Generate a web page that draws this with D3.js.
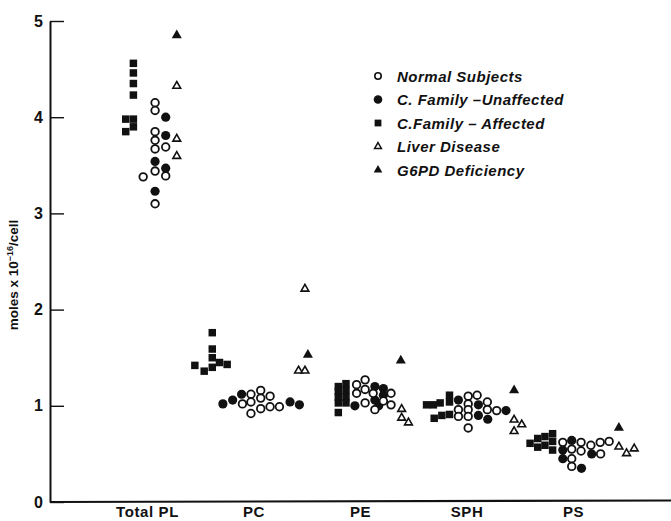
<!DOCTYPE html>
<html><head><meta charset="utf-8">
<script src="https://cdn.jsdelivr.net/npm/d3@7"></script>
<style>body{margin:0;background:#fff} svg{display:block}</style>
</head><body>
<svg id="c" width="671" height="521"></svg>
<script>
// ---- data ----
const categories = ["Total PL", "PC", "PE", "SPH", "PS"];
const yTicks = [0, 1, 2, 3, 4, 5];
const yTickLabels = ["0", "1", "2", "3", "4", "5"];
const legendLabels = ["Normal Subjects", "C. Family \u2013Unaffected", "C.Family \u2013 Affected", "Liver Disease", "G6PD Deficiency"];
// each entry: [category, value, horizontal slot within the category cluster]
const normalSubjects = [
  ["Total PL",4.15,0.95],["Total PL",4.07,0.95],["Total PL",3.85,0.95],["Total PL",3.76,0.95],["Total PL",3.67,0.95],
  ["Total PL",3.69,2.2],["Total PL",3.44,0.95],["Total PL",3.39,2.2],["Total PL",3.38,-0.45],["Total PL",3.10,0.95],
  ["PC",1.12,-0.3],["PC",1.16,0.85],["PC",1.02,-1.3],["PC",1.04,-0.3],["PC",1.08,0.85],
  ["PC",1.10,1.95],["PC",0.97,0.85],["PC",0.99,1.95],["PC",0.99,3.05],["PC",0.92,-0.3],
  ["PE",1.22,-0.4],["PE",1.27,0.6],["PE",1.17,0.6],["PE",1.13,-0.4],["PE",1.13,1.55],
  ["PE",1.13,3.65],["PE",1.03,0.6],["PE",0.96,1.75],["PE",1.01,3.65],["PE",1.05,2.75],
  ["SPH",1.10,0.2],["SPH",1.02,0.2],["SPH",0.96,0.2],["SPH",0.89,0.2],["SPH",0.77,0.2],
  ["SPH",0.96,-0.95],["SPH",0.89,-0.95],["SPH",1.11,1.25],["SPH",1.04,2.45],["SPH",0.96,2.45],["SPH",0.95,3.55],
  ["PS",0.62,-1.2],["PS",0.55,-0.15],["PS",0.45,-0.15],["PS",0.37,-0.15],["PS",0.62,0.95],
  ["PS",0.53,0.95],["PS",0.59,2.1],["PS",0.62,3.2],["PS",0.63,4.25],["PS",0.50,3.25]
];
const familyUnaffected = [
  ["Total PL",4.00,2.2],["Total PL",3.81,2.2],["Total PL",3.54,0.95],["Total PL",3.47,2.2],["Total PL",3.23,0.95],
  ["PC",1.02,-3.6],["PC",1.06,-2.45],["PC",1.12,-1.4],["PC",1.04,4.3],["PC",1.01,5.4],
  ["PE",1.00,-0.6],["PE",1.20,1.75],["PE",1.18,2.75],["PE",1.11,2.75],["PE",1.06,1.75],["PE",1.00,2.2],
  ["SPH",1.06,-0.95],["SPH",1.01,1.4],["SPH",0.90,1.4],["SPH",0.86,2.5],["SPH",0.95,4.65],
  ["PS",0.54,-1.2],["PS",0.45,-1.2],["PS",0.64,-0.15],["PS",0.50,2.2],["PS",0.35,1.0]
];
const familyAffected = [
  ["Total PL",4.56,-1.6],["Total PL",4.46,-1.6],["Total PL",4.35,-1.6],["Total PL",4.23,-1.6],
  ["Total PL",3.98,-2.5],["Total PL",3.98,-1.6],["Total PL",3.90,-1.6],["Total PL",3.85,-2.5],
  ["PC",1.76,-4.85],["PC",1.59,-4.85],["PC",1.50,-4.85],["PC",1.40,-4.85],["PC",1.45,-4.0],
  ["PC",1.43,-3.1],["PC",1.42,-6.9],["PC",1.36,-5.8],
  ["PE",1.20,-2.55],["PE",1.15,-2.55],["PE",1.09,-2.55],["PE",1.03,-2.55],["PE",0.93,-2.55],
  ["PE",1.23,-1.65],["PE",1.16,-1.65],["PE",1.09,-1.65],["PE",1.03,-1.65],
  ["SPH",1.01,-4.7],["SPH",1.01,-3.9],["SPH",1.03,-3.1],["SPH",1.11,-2.0],["SPH",1.04,-2.0],
  ["SPH",0.87,-3.8],["SPH",0.90,-2.9],["SPH",0.91,-2.0],
  ["PS",0.61,-5.05],["PS",0.66,-4.15],["PS",0.57,-4.15],["PS",0.68,-3.3],["PS",0.59,-3.3],
  ["PS",0.71,-2.4],["PS",0.63,-2.4],["PS",0.54,-2.4]
];
const liverDisease = [
  ["Total PL",4.33,3.5],["Total PL",3.78,3.5],["Total PL",3.60,3.5],
  ["PC",2.22,6.05],["PC",1.37,5.3],["PC",1.37,6.05],
  ["PE",0.97,4.9],["PE",0.88,4.9],["PE",0.83,5.7],
  ["SPH",0.86,5.6],["SPH",0.81,6.5],["SPH",0.74,5.6],
  ["PS",0.58,5.4],["PS",0.51,6.3],["PS",0.56,7.2]
];
const g6pdDeficiency = [
  ["Total PL",4.85,3.5],["PC",1.53,6.4],["PE",1.47,4.8],["SPH",1.16,5.6],["PS",0.77,5.4]
];

// ---- drawing ----
const W = 671, H = 521;
const svg = d3.select("#c");
const y = d3.scaleLinear().domain([0, 5]).range([502, 21]);
const xc = d3.scalePoint().domain(categories).range([147, 573]);
const slot = d3.scaleLinear().domain([0, 1]).range([0, 8.5]);
const px = d => xc(d[0]) + slot(d[2]);
const py = d => y(d[1]);
const ink = "#111";
const FONT = "'Liberation Sans', Arial, Helvetica, sans-serif";

// y axis
const yAxis = svg.append("g").attr("transform", "translate(50,0)")
  .call(d3.axisLeft(y).tickValues(yTicks).tickFormat((d, i) => yTickLabels[i])
    .tickSize(-14).tickSizeOuter(0).tickPadding(7));
yAxis.select(".domain").attr("stroke", ink).attr("stroke-width", 2);
yAxis.selectAll(".tick line").attr("stroke", ink).attr("stroke-width", 1.4);
yAxis.selectAll(".tick text").attr("fill", ink).style("font-family", FONT)
  .style("font-size", "16px").style("font-weight", "bold");

// x baseline
svg.append("line").attr("x1", 50).attr("x2", W).attr("y1", y(0)).attr("y2", y(0) - 1.5)
  .attr("stroke", ink).attr("stroke-width", 2.2);

// category labels
const xAxis = svg.append("g").attr("transform", `translate(0,${y(0)})`)
  .call(d3.axisBottom(xc).tickSize(0).tickPadding(0));
xAxis.select(".domain").remove();
xAxis.selectAll(".tick text").attr("y", 15).attr("dy", 0).attr("fill", ink)
  .style("font-family", FONT).style("font-size", "15px").style("font-weight", "bold")
  .style("letter-spacing", "0.6px");

// y title
svg.append("text").attr("transform", "translate(18,275) rotate(-90)")
  .attr("text-anchor", "middle").attr("fill", ink)
  .style("font-family", FONT).style("font-size", "13.5px").style("font-weight", "bold")
  .call(t => {
    t.append("tspan").text("moles x 10");
    t.append("tspan").attr("dy", -5).style("font-size", "9px").text("\u221216");
    t.append("tspan").attr("dy", 5).text("/cell");
  });

// marks
const plot = svg.append("g");
const sq = d3.symbol().type(d3.symbolSquare).size(56);
const triF = d3.symbol().type(d3.symbolTriangle).size(44);
const triO = d3.symbol().type(d3.symbolTriangle).size(26);

plot.selectAll(".aff").data(familyAffected).join("path").attr("class", "aff")
  .attr("transform", d => `translate(${px(d)},${py(d)})`).attr("d", sq).attr("fill", ink);
plot.selectAll(".una").data(familyUnaffected).join("circle").attr("class", "una")
  .attr("cx", px).attr("cy", py).attr("r", 4.6).attr("fill", ink);
plot.selectAll(".nor").data(normalSubjects).join("circle").attr("class", "nor")
  .attr("cx", px).attr("cy", py).attr("r", 3.8).attr("fill", "#fff")
  .attr("stroke", ink).attr("stroke-width", 1.8);
plot.selectAll(".liv").data(liverDisease).join("path").attr("class", "liv")
  .attr("transform", d => `translate(${px(d)},${py(d) + 0.5})`).attr("d", triO)
  .attr("fill", "#fff").attr("stroke", ink).attr("stroke-width", 1.6);
plot.selectAll(".g6").data(g6pdDeficiency).join("path").attr("class", "g6")
  .attr("transform", d => `translate(${px(d)},${py(d)})`).attr("d", triF).attr("fill", ink);

// legend
const legend = svg.append("g").attr("transform", "translate(378,76)");
const rowH = 23.5;
const legMarks = [
  g => g.append("circle").attr("r", 3.2).attr("fill", "#fff").attr("stroke", ink).attr("stroke-width", 1.6),
  g => g.append("circle").attr("r", 4.3).attr("fill", ink),
  g => g.append("path").attr("d", d3.symbol().type(d3.symbolSquare).size(46)()).attr("fill", ink),
  g => g.append("path").attr("d", d3.symbol().type(d3.symbolTriangle).size(20)()).attr("fill", "#fff").attr("stroke", ink).attr("stroke-width", 1.5),
  g => g.append("path").attr("d", d3.symbol().type(d3.symbolTriangle).size(32)()).attr("fill", ink)
];
legendLabels.forEach((lab, i) => {
  const row = legend.append("g").attr("transform", `translate(0,${i * rowH})`);
  legMarks[i](row);
  row.append("text").attr("x", 19).attr("y", 5.5).text(lab).attr("fill", ink)
    .style("font-family", FONT).style("font-size", "15px").style("letter-spacing", "0.5px")
    .style("font-weight", "bold").style("font-style", "italic");
});
</script>
</body></html>
